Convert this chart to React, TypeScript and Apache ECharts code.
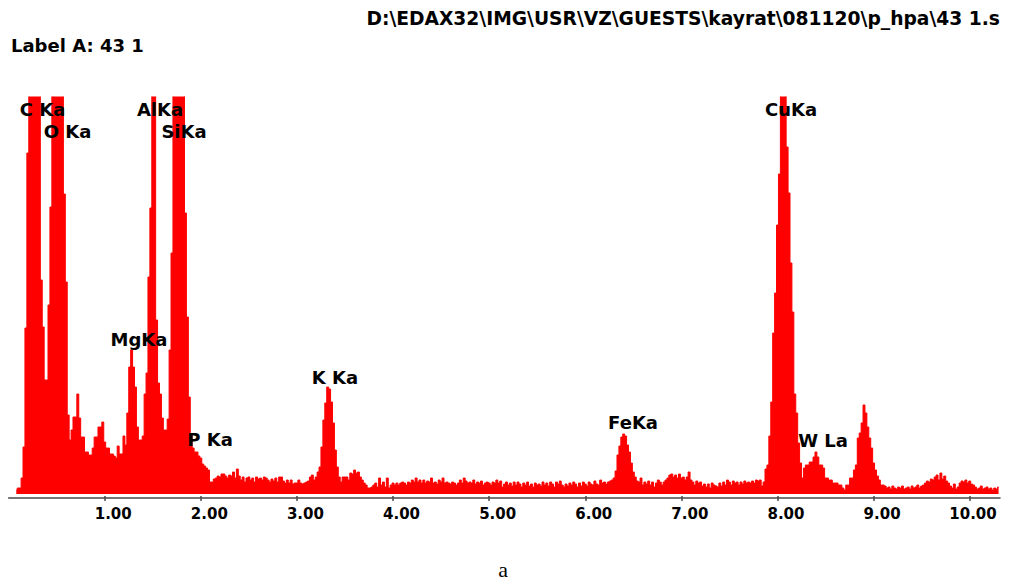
import React, { useEffect, useRef } from "react";
import * as echarts from "echarts";

const HEADER = "D:\\EDAX32\\IMG\\USR\\VZ\\GUESTS\\kayrat\\081120\\p_hpa\\43 1.s";
const LABEL_A = "Label A: 43 1";
const CAPTION = "a";

// energy axis (keV)
const E_START = 0.08;
const E_STEP = 0.02;
const E_MAX = 10.315;
const TICKS = [1, 2, 3, 4, 5, 6, 7, 8, 9, 10];

// counts per 0.02 keV channel (values above 397 are clipped by the display)
const COUNTS_0 = [4, 6, 6, 16, 47, 166, 341, 620, 900, 1060, 1000, 780, 500, 214, 167, 114, 114, 189, 287, 560, 820, 930, 880, 660, 440, 300, 212, 79, 54, 64, 77, 77, 100, 76, 57, 57, 42, 42, 39, 39, 46, 57, 57, 67, 67, 72];
const COUNTS_1 = [52, 46, 46, 40, 40, 38, 36, 48, 40, 40, 58, 49, 81, 127, 144, 127, 107, 67, 54, 54, 58, 100, 121, 217, 286, 600, 480, 174, 111, 100, 76, 64, 64, 75, 144, 241, 450, 700, 820, 780, 600, 430, 281, 177, 97, 60, 46, 42, 42, 38];
const COUNTS_2 = [36, 30, 28, 26, 24, 12, 12, 15, 16, 18, 17, 20, 20, 18, 16, 19, 18, 22, 16, 25, 18, 14, 17, 12, 16, 17, 14, 16, 12, 17, 15, 16, 14, 17, 16, 14, 12, 15, 13, 16, 12, 17, 17, 13, 11, 14, 11, 14, 10, 11];
const COUNTS_3 = [11, 14, 11, 10, 11, 12, 13, 17, 19, 14, 17, 22, 27, 47, 74, 91, 107, 105, 92, 71, 44, 27, 17, 12, 17, 17, 17, 14, 21, 20, 24, 21, 22, 17, 14, 11, 9, 6, 6, 7, 9, 11, 7, 16, 9, 12, 7, 16, 6, 9];
const COUNTS_4 = [11, 9, 11, 9, 11, 12, 11, 9, 12, 11, 14, 12, 16, 12, 14, 11, 14, 11, 13, 12, 16, 11, 12, 10, 14, 12, 16, 11, 12, 11, 10, 12, 11, 9, 11, 14, 11, 16, 13, 11, 12, 11, 14, 10, 12, 11, 13, 9, 11, 12];
const COUNTS_5 = [11, 9, 12, 11, 14, 11, 13, 7, 10, 12, 9, 11, 8, 12, 9, 12, 10, 7, 11, 9, 12, 8, 10, 7, 11, 9, 10, 8, 12, 9, 11, 8, 12, 10, 7, 12, 10, 13, 9, 7, 10, 8, 11, 9, 12, 10, 7, 11, 8, 12];
const COUNTS_6 = [10, 8, 12, 10, 9, 13, 10, 9, 14, 11, 12, 10, 12, 13, 14, 16, 23, 39, 48, 57, 60, 58, 49, 42, 31, 22, 17, 13, 12, 16, 9, 12, 10, 13, 9, 12, 7, 11, 14, 12, 9, 12, 14, 16, 19, 20, 17, 19, 16, 20];
const COUNTS_7 = [16, 17, 14, 17, 22, 14, 12, 9, 13, 11, 12, 8, 10, 7, 10, 6, 11, 9, 8, 7, 11, 8, 12, 9, 14, 12, 9, 13, 11, 12, 9, 12, 10, 13, 11, 12, 11, 13, 11, 14, 13, 14, 8, 12, 25, 29, 58, 92, 161, 201];
const COUNTS_8 = [269, 320, 430, 450, 410, 347, 301, 231, 182, 100, 81, 51, 31, 16, 26, 29, 29, 32, 32, 37, 42, 37, 29, 29, 26, 16, 16, 14, 14, 11, 11, 11, 9, 9, 6, 4, 9, 9, 16, 16, 24, 29, 56, 61, 71, 89, 81, 67, 56, 46];
const COUNTS_9 = [31, 24, 18, 14, 9, 9, 8, 6, 7, 5, 8, 6, 5, 7, 6, 8, 5, 6, 7, 5, 8, 6, 7, 9, 6, 8, 9, 11, 13, 12, 15, 14, 17, 19, 14, 21, 15, 18, 13, 11, 8, 6, 10, 5, 7, 11, 13, 12, 14, 11];
const COUNTS_10 = [13, 10, 9, 7, 5, 6, 8, 5, 6, 7, 5, 6, 4, 6, 5, 7];

// peak identification labels: energy (keV) and height (counts) of label centre
const PEAK_NAMES = ["C Ka", "O Ka", "AlKa", "SiKa", "MgKa", "P Ka", "K Ka", "FeKa", "CuKa", "W La"];
const PEAK_E = [0.353, 0.613, 1.575, 1.825, 1.357, 2.096, 3.396, 6.497, 8.141, 8.474];
const PEAK_Y = [385, 363, 385, 363, 155, 55, 117, 72, 385, 54];

const FONT = '"DejaVu Sans", sans-serif';

export default function App() {
  const ref = useRef<HTMLDivElement>(null);
  useEffect(() => {
    if (!ref.current) return;
    const chart = echarts.init(ref.current, undefined, { renderer: "svg" });
    const counts = [
      ...COUNTS_0, ...COUNTS_1, ...COUNTS_2, ...COUNTS_3, ...COUNTS_4,
      ...COUNTS_5, ...COUNTS_6, ...COUNTS_7, ...COUNTS_8, ...COUNTS_9, ...COUNTS_10,
    ];
    const spectrum = counts.map((c, i) => [+(E_START + i * E_STEP).toFixed(2), c]);
    const peaks = PEAK_E.map((e, i) => [e, PEAK_Y[i]]);

    chart.setOption({
      animation: false,
      backgroundColor: "#ffffff",
      grid: { left: 8.6, top: 97, width: 991.4, height: 401, containLabel: false },
      xAxis: [
        {
          type: "value",
          min: 0,
          max: E_MAX,
          position: "bottom",
          axisLine: { show: true, onZero: false, lineStyle: { color: "#4a4a4a", width: 1.5 } },
          axisTick: { show: true, inside: false, length: 3, customValues: TICKS, lineStyle: { color: "#4a4a4a", width: 1.5 } },
          splitLine: { show: false },
          axisLabel: {
            show: true,
            customValues: TICKS,
            margin: 8,
            align: "center",
            formatter: (v: number) => `{t|${v.toFixed(2)}}`,
            rich: {
              t: {
                width: 54,
                align: "right",
                fontFamily: FONT,
                fontWeight: "bold",
                fontSize: 15,
                color: "#000000",
              },
            },
          },
        },
        {
          type: "value",
          min: 0,
          max: E_MAX,
          position: "bottom",
          axisLine: { show: false, onZero: false },
          axisTick: { show: true, inside: true, length: 2, customValues: TICKS, lineStyle: { color: "#4a4a4a", width: 1.5 } },
          axisLabel: { show: false },
          splitLine: { show: false },
        },
      ],
      yAxis: { type: "value", min: -4, max: 397, show: false, splitLine: { show: false } },
      series: [
        {
          type: "line",
          xAxisIndex: 0,
          data: spectrum,
          step: "middle",
          showSymbol: false,
          symbol: "none",
          clip: true,
          lineStyle: { color: "#ff0000", width: 1 },
          areaStyle: { color: "#ff0000", opacity: 1 },
          z: 1,
        },
        {
          type: "custom",
          xAxisIndex: 0,
          data: peaks,
          z: 20,
          clip: false,
          renderItem: (params: any, api: any) => {
            const p = api.coord([api.value(0), api.value(1)]);
            return {
              type: "text",
              x: p[0],
              y: p[1],
              z2: 100,
              style: {
                text: PEAK_NAMES[params.dataIndex],
                fill: "#000000",
                font: `bold 18px ${FONT}`,
                align: "center",
                verticalAlign: "middle",
              },
            };
          },
        },
      ],
      graphic: [
        {
          type: "text",
          x: 1000,
          y: 18,
          style: { text: HEADER, align: "right", verticalAlign: "middle", font: `bold 18.7px ${FONT}`, fill: "#000000" },
        },
        {
          type: "text",
          x: 11,
          y: 45,
          style: { text: LABEL_A, align: "left", verticalAlign: "middle", font: `bold 18px ${FONT}`, fill: "#000000" },
        },
        {
          type: "text",
          x: 503,
          y: 569,
          style: { text: CAPTION, align: "center", verticalAlign: "middle", font: '22px "Liberation Serif", serif', fill: "#000000" },
        },
      ],
    });
    return () => chart.dispose();
  }, []);
  return <div ref={ref} style={{ position: "absolute", left: 0, top: 0, width: 1011, height: 580 }} />;
}
